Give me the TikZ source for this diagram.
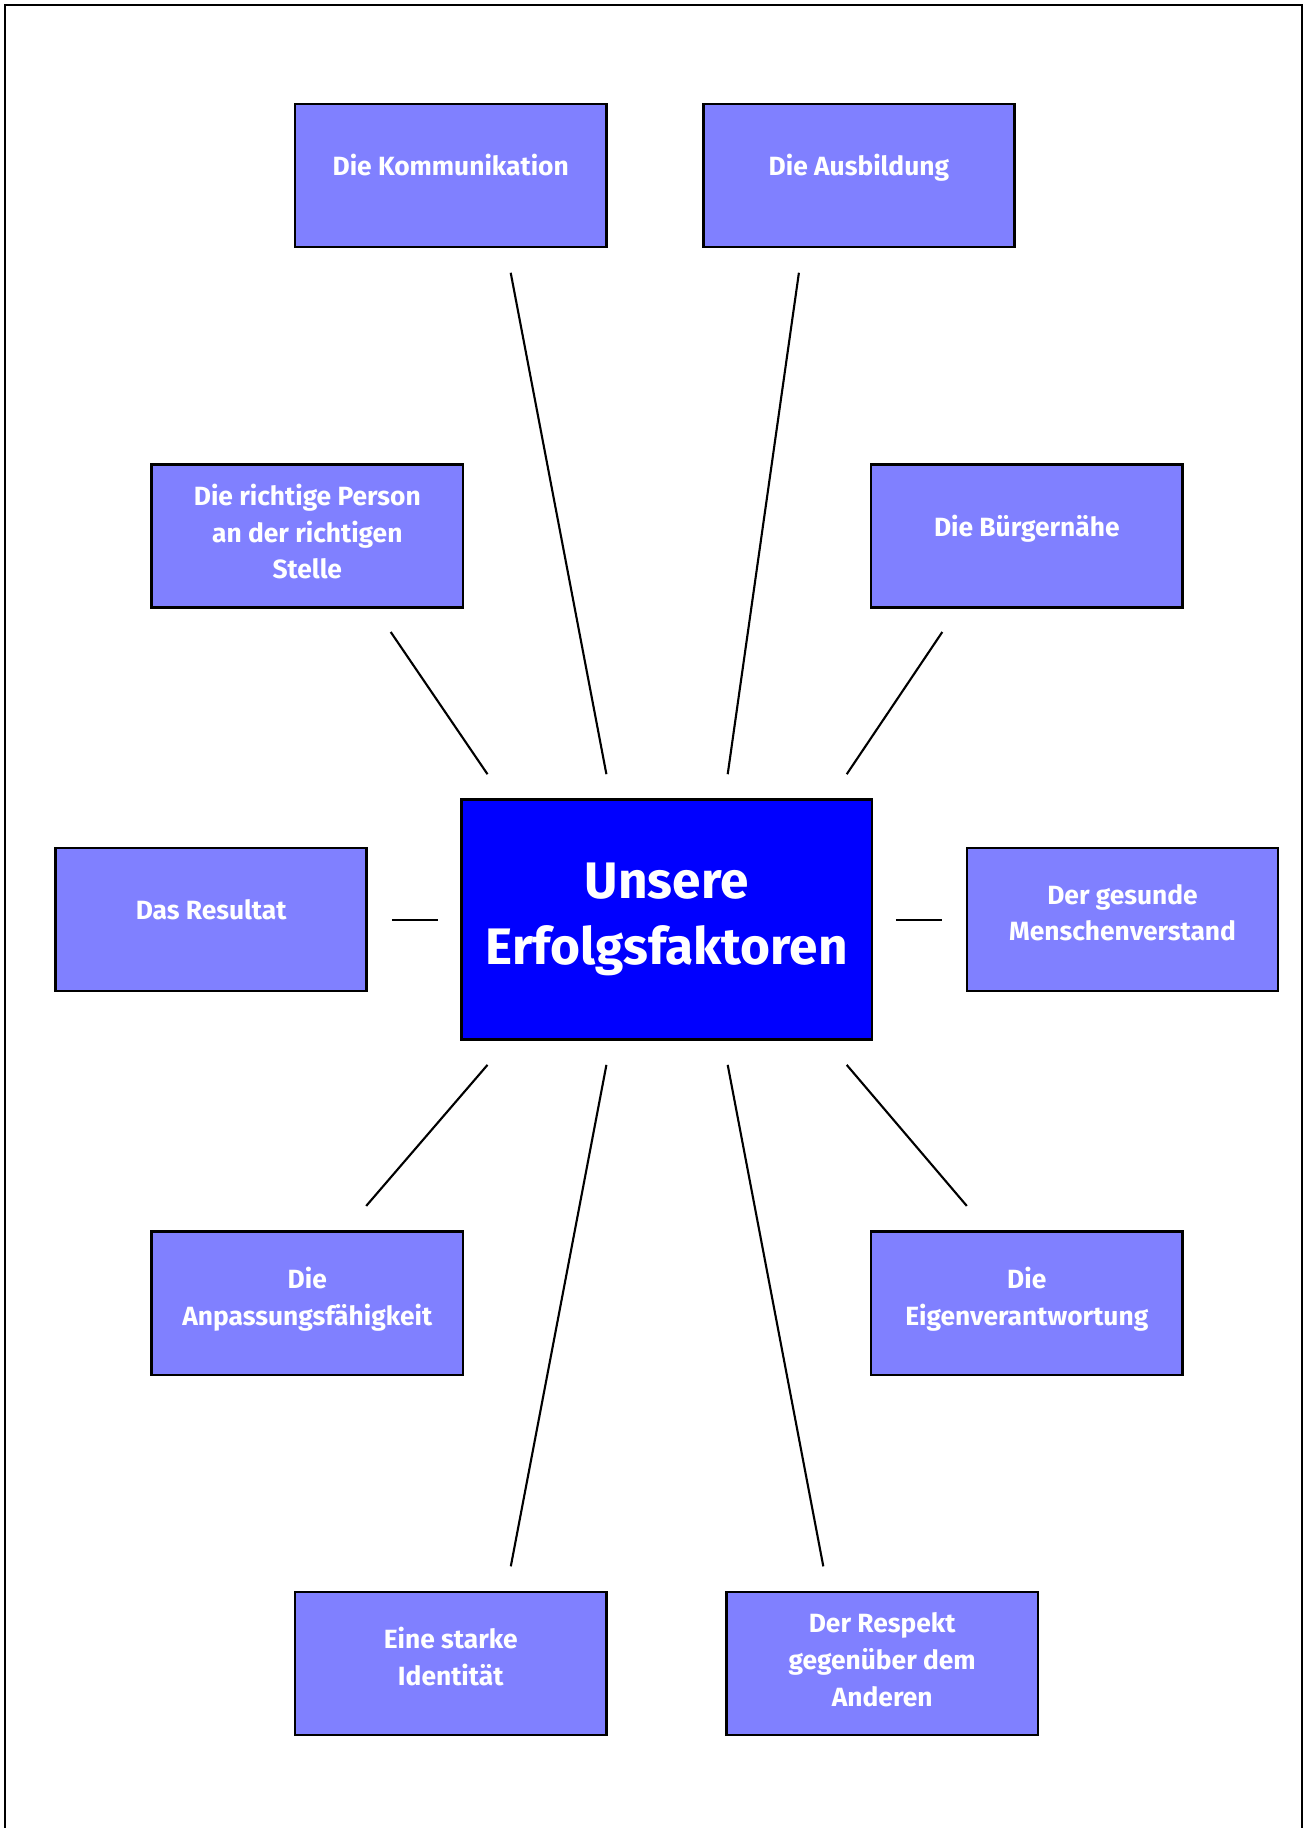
\documentclass[tikz,border=0pt]{standalone}
\usepackage{fontspec}
\setmainfont{Fira Sans}
\usepackage{xcolor}
\usetikzlibrary{calc}

\definecolor{factorfill}{HTML}{8080FF}
\definecolor{corefill}{HTML}{0000FF}

\begin{document}
\begin{tikzpicture}[
  x=0.01cm, y=-0.01cm,
  every node/.style={rectangle,draw,line width=0.7pt,align=center,text=white,
    font=\bfseries\fontsize{7.5}{10.45}\selectfont},
  factor/.style={fill=factorfill,minimum width=3.11cm,minimum height=1.43cm,
    text depth=#1},
  factor/.default=6pt,
  core/.style={fill=corefill,minimum width=4.1cm,minimum height=2.4cm,
    font=\bfseries\fontsize{14.6}{18.9}\selectfont},
  link/.style={line width=0.6pt}]

  \useasboundingbox (0,0) rectangle (1305,1828);
  \draw[line width=0.7pt] (5,1828) -- (5,5) -- (1302,5) -- (1302,1828);

  % centre
  \node[core] (core) at (666.7,919.6) {Unsere\\Erfolgsfaktoren};

  % the ten factors
  \node[factor] (komm) at (450.7,175.5) {Die Kommunikation};
  \node[factor] (ausb) at (858.9,175.5) {Die Ausbildung};
  \node[factor=2.6pt] (person) at (307.3,535.9) {Die richtige Person\\an der richtigen\\Stelle};
  \node[factor] (buerger) at (1026.8,535.9) {Die Bürgernähe};
  \node[factor] (result) at (211.1,919.6) {Das Resultat};
  \node[factor=4pt] (verstand) at (1122.5,919.6) {Der gesunde\\Menschenverstand};
  \node[factor=4pt] (anpass) at (307.3,1303.2) {Die\\Anpassungsfähigkeit};
  \node[factor=4pt] (eigen) at (1026.8,1303.2) {Die\\Eigenverantwortung};
  \node[factor=4pt] (ident) at (450.7,1663.6) {Eine starke\\Identität};
  \node[factor=2.4pt] (respekt) at (882.2,1663.6) {Der Respekt\\gegenüber dem\\Anderen};

  % spokes
  \draw[link] ($(komm.south)+(60,24.5)$) -- ($(core.north)+(-60.3,-24.1)$);
  \draw[link] ($(ausb.south)+(-60,24.5)$) -- ($(core.north)+(61,-24.1)$);
  \draw[link] ($(person.south)+(83.4,23.3)$) -- ($(core.north)+(-179.2,-24.1)$);
  \draw[link] ($(buerger.south)+(-84.5,23.3)$) -- ($(core.north)+(180,-24.1)$);
  \draw[link] ($(result.east)+(23.9,0)$) -- ($(core.west)+(-22,0)$);
  \draw[link] ($(core.east)+(22.8,0)$) -- ($(verstand.west)+(-23.3,0)$);
  \draw[link] ($(core.south)+(-179.2,24)$) -- ($(anpass.north)+(58.9,-24.5)$);
  \draw[link] ($(core.south)+(180,24)$) -- ($(eigen.north)+(-60,-24.5)$);
  \draw[link] ($(core.south)+(-60.3,24)$) -- ($(ident.north)+(60.1,-24.5)$);
  \draw[link] ($(core.south)+(61,24)$) -- ($(respekt.north)+(-58.9,-24.5)$);
\end{tikzpicture}
\end{document}
